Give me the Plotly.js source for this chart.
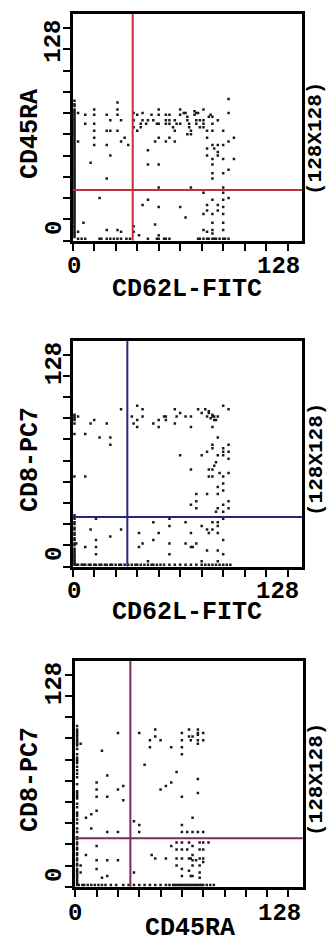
<!DOCTYPE html>
<html>
<head>
<meta charset="utf-8">
<script src="https://cdn.plot.ly/plotly-3.0.1.min.js"></script>
<style>html,body{margin:0;padding:0;background:#fff;}#chart{width:327px;height:943px;}</style>
</head>
<body>
<div id="chart"></div>
<script>
// ---- DATA (channel values, 128x128 grid) ----
const xTitles = ["CD62L-FITC", "CD62L-FITC", "CD45RA"];
const yTitles = ["CD45RA", "CD8-PC7", "CD8-PC7"];
const tickLabels = ["0", "128"];
const resLabel = "(128X128)";
const gateX = [33.5, 30.5, 31];
const gateY = [28.5, 28, 27.5];
const gateColors = ["#c0303c", "#26267a", "#7a2c5c"];

// panel 1: CD62L-FITC vs CD45RA
const p1Points = [[3,72],[7,71],[7,66],[12,74],[12,71],[12,66],[12,62],[12,58],[12,54],[19,71],[19,62],[19,54],[21,62],[21,68],[25,78],[25,74],[25,71],[25,62],[27,68],[27,56],[29,58],[31,54],[3,56],[10,44],[21,48],[19,35],[34,72],[34,68],[34,64],[36,71],[36,62],[38,66],[39,72],[39,68],[38,64],[41,66],[42,68],[44,71],[45,68],[47,66],[48,74],[48,71],[48,66],[48,58],[46,56],[52,68],[52,66],[52,56],[52,71],[54,71],[54,68],[54,66],[54,58],[56,64],[57,62],[57,68],[58,66],[57,56],[60,74],[60,71],[60,66],[62,72],[63,72],[64,70],[64,68],[64,60],[65,66],[65,64],[66,62],[66,60],[68,73],[68,71],[69,72],[69,68],[69,66],[70,72],[71,68],[71,64],[73,74],[73,68],[73,66],[73,64],[75,62],[75,58],[75,52],[75,48],[76,70],[77,71],[78,70],[78,66],[78,62],[78,54],[78,46],[79,52],[81,68],[81,50],[81,48],[81,54],[84,62],[84,46],[84,54],[87,80],[87,72],[87,56],[90,58],[90,46],[78,43],[78,38],[78,35],[84,38],[87,40],[42,51],[42,43],[48,43],[48,30],[66,30],[84,30],[15,24],[6,10],[3,5],[19,6],[25,6],[27,5],[39,20],[42,23],[46,9],[48,19],[48,3],[37,3],[60,19],[63,13],[73,27],[73,15],[73,6],[75,20],[75,17],[75,5],[78,23],[78,15],[78,10],[78,6],[78,4],[81,20],[81,17],[84,27],[84,23],[84,19],[84,15],[84,10],[84,6],[87,24],[34,8],[34,5]];
const p1AxisX = [3,5,7,15,16,19,21,23,25,27,30,32,42,47,48,51,52,54,70,71,73,75,76,78,79,80,82,84,85,87];
const p1AxisY = [79,77,76,74,73,72,71,70,69,68,67,66,65,64,63,62,61,60,59,58,57,56,55,54,53,52,51,50,49,48,47,46,45,44,43,42,41,40,39,38,37,36,35,34,33,32,31,30,29,28,27,26,25,24,23,22,21,20,19,18,17,16,15,14,13,12,11,10,9,8,7,6,5,4,3,2];

// panel 2: CD62L-FITC vs CD8-PC7
const p2Points = [[27,89],[36,91],[39,89],[33,85],[36,83],[39,85],[34,81],[36,79],[3,85],[10,81],[12,83],[19,81],[7,75],[15,73],[21,73],[21,69],[7,51],[45,81],[48,83],[48,79],[51,85],[52,85],[52,83],[57,89],[57,81],[58,85],[60,87],[63,85],[66,85],[66,79],[70,89],[72,87],[74,89],[75,85],[76,87],[76,88],[77,84],[78,86],[78,85],[78,79],[79,83],[79,85],[80,83],[81,85],[84,91],[87,89],[81,73],[78,69],[84,67],[87,69],[78,67],[75,65],[72,63],[60,63],[81,63],[84,65],[87,65],[84,63],[87,61],[80,59],[79,57],[78,55],[76,55],[66,55],[78,51],[76,51],[82,53],[84,51],[87,53],[84,47],[81,45],[84,43],[69,41],[75,41],[81,41],[69,37],[66,35],[69,33],[81,33],[84,35],[87,37],[80,31],[84,31],[87,33],[13,27],[10,21],[13,15],[21,17],[27,21],[2,13],[7,11],[13,11],[13,7],[37,19],[37,11],[39,13],[45,25],[45,15],[48,19],[54,27],[54,23],[54,13],[54,7],[63,25],[66,19],[63,13],[66,11],[69,13],[67,11],[72,23],[75,21],[76,19],[78,25],[78,21],[81,23],[81,25],[81,19],[84,27],[84,15],[75,9],[81,9],[84,7],[72,3],[81,3],[42,3]];
const p2AxisX = [1,2,3,5,6,7,9,10,12,13,15,16,18,19,21,22,24,26,27,29,31,33,35,36,38,40,42,44,45,47,49,51,54,57,60,63,66,69,72,74,76,78,80,82,84,86,88];
const p2AxisY = [86,85,84,83,81,75,51,29,27,25,24,22,21,19,18,16,15,13,12,10,9,8,7,6,5,4,3,2];

// panel 3: CD45RA vs CD8-PC7
const p3Points = [[3,81],[15,77],[24,87],[18,63],[12,59],[12,55],[12,51],[18,51],[24,55],[27,57],[27,49],[6,39],[9,41],[12,43],[9,33],[18,31],[24,31],[36,87],[45,89],[42,83],[45,85],[48,83],[42,79],[54,79],[60,87],[64,89],[64,85],[60,83],[65,83],[66,85],[69,86],[69,87],[69,89],[69,83],[69,81],[72,87],[72,83],[60,79],[60,75],[39,69],[57,65],[54,59],[51,57],[48,55],[60,51],[69,61],[69,53],[66,39],[33,37],[36,35],[60,35],[63,31],[66,31],[69,31],[72,31],[60,31],[36,31],[12,23],[6,18],[3,12],[3,8],[12,15],[12,10],[18,15],[24,15],[18,6],[15,5],[33,8],[43,18],[45,16],[51,16],[54,23],[57,25],[57,21],[57,16],[57,12],[60,25],[60,21],[60,16],[60,10],[60,6],[63,21],[64,25],[64,16],[64,9],[65,6],[66,6],[66,12],[66,15],[66,18],[66,23],[70,25],[70,21],[70,16],[70,12],[70,8],[70,5],[72,25],[72,21],[72,16],[72,14],[75,25],[65,16],[68,15]];
const p3AxisX = [1,2,4,5,7,9,11,13,15,17,20,23,27,30,33,36,39,42,45,48,51,53,55,56,57,58,59,60,61,62,63,64,65,66,67,68,69,70,71,72,74,76,78];
const p3AxisY = [91,89,88,87,86,85,84,83,82,81,80,78,75,73,72,71,70,68,66,64,62,58,54,53,52,51,50,47,45,42,41,40,38,36,33,31,28,27,25,24,22,21,19,18,16,15,13,12,10,9,8,7,6,5,4,3,2];

// ---- LAYOUT HELPERS ----
const W = 327, H = 943;
const px = v => v / W;
const py = v => 1 - v / H;
const FONT = "Liberation Mono, DejaVu Sans Mono, monospace";

const panels = [
  {pts: p1Points, ax: p1AxisX, ay: p1AxisY, xd: [72.7, 302], yd: [14, 240.5],
   yt: [41.7, 228], xtY: 266.5, xt: [74, 278], titleX: 187, titleXY: 289.5, titleYY: 134},
  {pts: p2Points, ax: p2AxisX, ay: p2AxisY, xd: [72.7, 302], yd: [340.5, 566.5],
   yt: [364, 554], xtY: 591.5, xt: [73.5, 277.5], titleX: 187, titleXY: 612, titleYY: 460},
  {pts: p3Points, ax: p3AxisX, ay: p3AxisY, xd: [75.3, 302.7], yd: [660.7, 886.7],
   yt: [684, 875], xtY: 913.5, xt: [75, 279], titleX: 189.5, titleXY: 928, titleYY: 780}
];

const traces = [];
const layout = {
  width: W, height: H, margin: {l: 0, r: 0, t: 0, b: 0},
  paper_bgcolor: "#fff", plot_bgcolor: "#fff", showlegend: false,
  shapes: [], annotations: []
};

panels.forEach((p, i) => {
  const n = i === 0 ? "" : String(i + 1);
  const xs = p.pts.map(d => d[0]).concat(p.ax, p.ay.map(() => 1));
  const ys = p.pts.map(d => d[1]).concat(p.ax.map(() => 1), p.ay);
  traces.push({
    type: "scatter", mode: "markers", x: xs, y: ys,
    xaxis: "x" + n, yaxis: "y" + n, hoverinfo: "skip",
    marker: {symbol: "square", size: 2.5, color: "#1a1a1a", line: {width: 0}}
  });
  const common = {range: [0, 128], showline: true, mirror: true, linecolor: "#000", linewidth: 3,
    ticks: "outside", tick0: 0, dtick: 12, ticklen: 7, tickwidth: 2, tickcolor: "#000",
    showticklabels: false, showgrid: false, zeroline: false, fixedrange: true};
  layout["xaxis" + n] = Object.assign({}, common, {domain: [px(p.xd[0]), px(p.xd[1])], anchor: "y" + n});
  layout["yaxis" + n] = Object.assign({}, common, {domain: [py(p.yd[1]), py(p.yd[0])], anchor: "x" + n});

  layout.shapes.push({type: "line", xref: "x" + n, yref: "y" + n + " domain", x0: gateX[i], x1: gateX[i], y0: 0, y1: 1,
    line: {color: gateColors[i], width: 2}});
  layout.shapes.push({type: "line", xref: "x" + n + " domain", yref: "y" + n, x0: 0, x1: 1, y0: gateY[i], y1: gateY[i],
    line: {color: gateColors[i], width: 2}});

  const f = {family: FONT, size: 24, color: "#000", weight: "bold"};
  const ft = {family: FONT, size: 25, color: "#000", weight: "bold"};
  const fr = {family: FONT, size: 21, color: "#000", weight: "bold"};
  const ann = (x, y, text, font, angle) => layout.annotations.push({
    xref: "paper", yref: "paper", x: px(x), y: py(y), text: text, showarrow: false,
    xanchor: "center", yanchor: "middle", textangle: angle || 0, font: font, borderpad: 0
  });
  ann(p.xt[0], p.xtY, tickLabels[0], f);
  ann(p.xt[1], p.xtY, tickLabels[1], f);
  ann(54, p.yt[0], tickLabels[1], f, -90);
  ann(54, p.yt[1], tickLabels[0], f, -90);
  ann(p.titleX, p.titleXY, xTitles[i], ft);
  ann(30, p.titleYY, yTitles[i], ft, -90);
  ann(316, p.titleYY + (i === 0 ? 5 : 0), resLabel, fr, -90);
});

Plotly.newPlot("chart", traces, layout, {staticPlot: true, displayModeBar: false});
</script>
</body>
</html>
